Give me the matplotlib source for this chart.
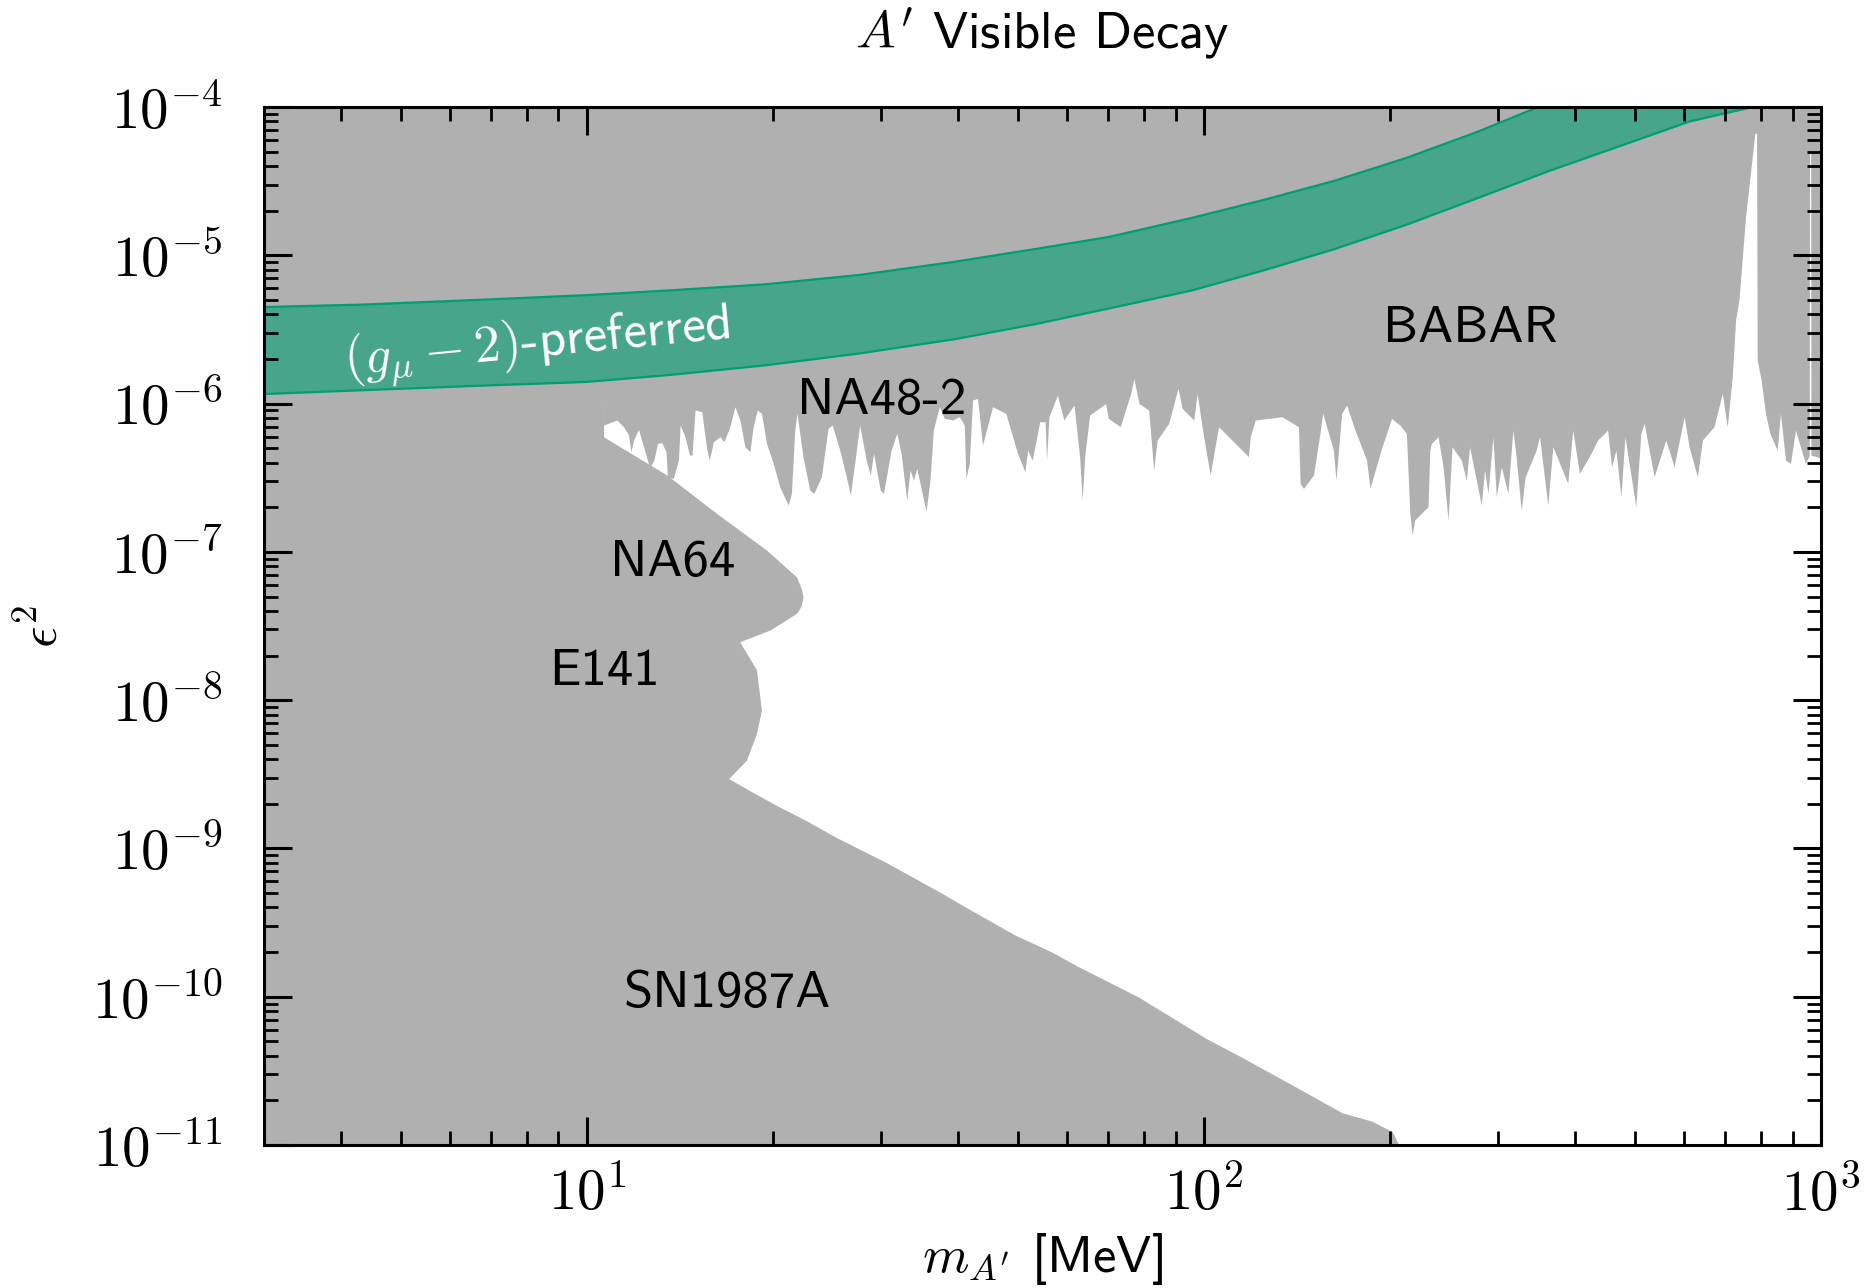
import numpy as np
import matplotlib
matplotlib.use("Agg")
import matplotlib.pyplot as plt
from matplotlib.ticker import LogLocator, NullFormatter, FuncFormatter

plt.rcParams['font.family'] = 'cmss10'
plt.rcParams['mathtext.fontset'] = 'cm'
plt.rcParams['axes.unicode_minus'] = False

GRAY = '#b0b0b0'
GREEN = '#009e73'

# (g-2)_mu preferred band, upper and lower edges
gm2_upper_m = [3.0, 4.31, 6.71, 10.0, 13.63, 19.43, 27.7, 39.5, 53.8, 70.2,
               95.7, 124.8, 162.7, 212.3, 276.9, 348]
gm2_upper_eps2 = [4.48e-6, 4.65e-6, 5.01e-6, 5.39e-6, 5.80e-6, 6.37e-6, 7.38e-6, 9.05e-6, 1.11e-5, 1.33e-5,
                  1.79e-5, 2.36e-5, 3.18e-5, 4.52e-5, 6.78e-5, 1.0e-4]
gm2_lower_m = [3.0, 4.31, 6.71, 10.0, 13.63, 19.43, 27.7, 39.5, 53.8, 73.4,
               95.7, 124.8, 162.7, 212.3, 276.9, 361.0, 470.7, 613.7, 775]
gm2_lower_eps2 = [1.16e-6, 1.23e-6, 1.32e-6, 1.40e-6, 1.56e-6, 1.81e-6, 2.18e-6, 2.72e-6, 3.46e-6, 4.56e-6,
                  5.80e-6, 7.90e-6, 1.10e-5, 1.60e-5, 2.42e-5, 3.68e-5, 5.43e-5, 8.01e-5, 1.0e-4]

# NA64 / E141 / SN1987A: right edge of the low-mass excluded region
left_eps2 = [1e-4, 7.2e-7, 5.97e-7, 3.30e-7, 1.82e-7, 1.03e-7, 6.79e-8, 5.7e-8, 4.98e-8, 4.3e-8,
             3.85e-8, 2.97e-8, 2.48e-8, 1.60e-8, 8.57e-9, 5.97e-9, 3.94e-9, 2.96e-9, 2.47e-9, 1.95e-9,
             1.54e-9, 1.19e-9, 8.02e-10, 5.01e-10, 4.07e-10, 2.61e-10, 2.01e-10, 1.59e-10, 9.97e-11, 5.19e-11,
             4.0e-11, 2.5e-11, 1.65e-11, 1.45e-11, 1.23e-11, 1e-11]
left_m = [11.0, 10.65, 10.65, 13.48, 16.23, 19.55, 21.87, 22.25, 22.42, 22.25,
          21.87, 19.81, 17.70, 18.84, 19.19, 18.84, 18.15, 16.98, 18.32, 20.31,
          22.69, 25.34, 30.6, 37.55, 40.9, 49.4, 56.6, 62.7, 78.3, 101.2,
          114, 140, 167.5, 187, 202, 207]

# NA48/2 + BaBar: lower edge of the high-coupling excluded region
babar_m = [
    10.65, 11.19, 11.47, 11.69, 11.79, 11.91, 12.13, 12.36, 12.56, 12.66,
    12.85, 13.02, 13.23, 13.44, 13.51, 13.81, 14.08, 14.17, 14.43, 14.67,
    14.81, 14.98, 15.36, 15.64, 15.80, 16.04, 16.44, 16.68, 17.06, 17.38,
    17.71, 18.04, 18.38, 18.61, 18.89, 19.19, 19.56, 20.05, 20.55, 21.20,
    21.46, 21.73, 21.91, 22.41, 22.98, 23.33, 24.00, 24.60, 24.99, 25.70,
    26.34, 26.74, 27.17, 27.68, 28.37, 28.80, 29.16, 29.89, 30.26, 31.13,
    31.80, 32.31, 33.00, 33.41, 33.84, 34.26, 35.47, 35.99, 36.44, 37.27,
    37.97, 39.17, 40.15, 40.90, 41.15, 41.67, 42.19, 42.98, 43.78, 44.44,
    45.45, 46.59,
    47.75, 49.9, 51.3, 51.8, 52.7, 54.2, 55.3, 55.6, 56.1, 57.9,
    59.3, 61.6, 62.9, 63.5, 64.1, 65.3, 69.3, 70.0, 73.2, 76.1,
    77.0, 78.5, 81.4, 82.9, 84.0, 87.7, 90.8, 92.2, 96.3, 97.5,
    99.9, 102.4, 105.6, 118.1, 118.9, 121.1, 133.7, 142.3, 143.2, 145.0,
    150.5, 154.2, 155.8, 162.1, 163.7, 167.2, 170.3, 175.7, 183.5, 185.8,
    194.0, 201.4, 207.7, 212.9, 215.6, 217.5, 219.6, 230.8, 232.3,
    233.7, 239.6, 244.1, 248.7, 252.4, 261.3, 266.2, 269.5, 281.5, 285.0,
    288.6, 294.0, 297.7, 303.3, 310.9, 316.7, 320.6, 326.7, 331.6, 345.5,
    349.8, 360.8, 367.6, 388.7, 396.0, 406.0, 423.9, 434.5, 451.0, 457.7,
    465.2, 474.0, 481.1, 501.1, 510.5, 516.9, 536.5, 560.3, 578.0, 600.0,
    611.2, 630.5, 642.3, 670.7, 691.8, 704.8, 718.1, 727.1, 736.2, 754.6,
    781.3, 786.2, 788.1, 799.8, 812.8, 826.2, 849.0, 859.6, 875.8, 892.3,
    908.9, 926.0, 943.5,
    957, 958, 962, 963, 1000]
babar_eps2 = [
    7.17e-7, 7.75e-7, 6.99e-7, 6.14e-7, 4.74e-7, 5.68e-7, 6.71e-7, 5.12e-7, 4.06e-7, 3.75e-7,
    4.16e-7, 5.39e-7, 5.45e-7, 4.74e-7, 3.21e-7, 3.13e-7, 4.16e-7, 7.17e-7, 5.98e-7, 4.50e-7,
    4.50e-7, 9.05e-7, 8.82e-7, 4.99e-7, 4.16e-7, 5.53e-7, 5.98e-7, 5.53e-7, 6.99e-7, 9.53e-7,
    7.75e-7, 5.12e-7, 4.74e-7, 6.99e-7, 9.05e-7, 8.60e-7, 5.39e-7, 3.95e-7, 2.75e-7, 2.07e-7,
    2.48e-7, 6.64e-7, 8.60e-7, 4.39e-7, 2.61e-7, 2.48e-7, 3.21e-7, 6.81e-7, 7.17e-7, 4.86e-7,
    3.21e-7, 2.42e-7, 3.95e-7, 7.17e-7, 4.16e-7, 3.30e-7, 4.62e-7, 2.61e-7, 2.48e-7, 4.86e-7,
    6.30e-7, 4.62e-7, 2.24e-7, 3.56e-7, 3.05e-7, 3.66e-7, 1.87e-7, 3.05e-7, 6.64e-7, 9.53e-7,
    7.96e-7, 7.75e-7, 8.16e-7, 7.17e-7, 3.13e-7, 3.95e-7, 1.057e-6, 1.085e-6, 5.26e-7, 6.64e-7,
    9.53e-7, 9.05e-7,
    8.60e-7, 4.62e-7, 3.47e-7, 4.86e-7, 4.16e-7, 7.55e-7, 7.55e-7, 4.16e-7, 8.16e-7, 1.14e-6,
    7.75e-7, 9.78e-7, 4.39e-7, 2.24e-7, 4.39e-7, 8.38e-7, 1.00e-6, 7.95e-7, 6.99e-7, 1.17e-6,
    1.48e-6, 1.00e-6, 9.05e-7, 3.56e-7, 5.68e-7, 7.36e-7, 1.27e-6, 9.29e-7, 7.75e-7, 1.17e-6,
    5.98e-7, 3.30e-7, 6.99e-7, 4.39e-7, 5.98e-7, 7.75e-7, 8.16e-7, 6.99e-7, 2.90e-7, 2.68e-7,
    3.30e-7, 6.30e-7, 8.60e-7, 4.86e-7, 3.05e-7, 8.60e-7, 9.78e-7, 6.64e-7, 4.16e-7, 2.68e-7,
    4.99e-7, 7.95e-7, 7.17e-7, 6.30e-7, 1.82e-7, 1.30e-7, 1.64e-7, 2.02e-7, 4.86e-7,
    5.39e-7, 5.98e-7, 3.75e-7, 1.64e-7, 5.12e-7, 4.16e-7, 3.05e-7, 5.12e-7, 2.07e-7, 3.56e-7,
    2.48e-7, 5.98e-7, 2.35e-7, 3.75e-7, 2.48e-7, 6.63e-7, 4.38e-7, 1.91e-7, 3.21e-7, 4.86e-7,
    5.98e-7, 2.07e-7, 5.12e-7, 2.90e-7, 6.63e-7, 3.38e-7, 4.62e-7, 5.68e-7, 6.63e-7, 3.75e-7,
    4.86e-7, 2.35e-7, 5.98e-7, 2.02e-7, 6.30e-7, 7.36e-7, 3.21e-7, 5.68e-7, 3.75e-7, 8.16e-7,
    5.12e-7, 3.21e-7, 5.68e-7, 6.99e-7, 1.17e-6, 6.99e-7, 1.52e-6, 3.66e-6, 5.00e-6, 1.82e-5,
    6.65e-5, 6.65e-5, 1.97e-6, 1.44e-6, 8.59e-7, 6.30e-7, 4.86e-7, 8.59e-7, 4.16e-7, 3.95e-7,
    6.63e-7, 5.12e-7, 3.95e-7,
    4.5e-7, 5.1e-5, 5.1e-5, 4.5e-7, 4.3e-7]

fig = plt.figure(figsize=(9.33, 6.44), dpi=200)
ax = fig.add_axes([0.1415, 0.111, 0.8344, 0.8059])

# excluded regions
ax.fill_betweenx(left_eps2, 1.0, left_m, color=GRAY, lw=0, zorder=1)
ax.fill_between(babar_m, babar_eps2, 1e-4, color=GRAY, lw=0, zorder=1)

# g-2 band
band_m = gm2_upper_m + gm2_lower_m[::-1]
band_eps2 = gm2_upper_eps2 + gm2_lower_eps2[::-1]
ax.fill(band_m, band_eps2, color=GREEN, alpha=0.6, lw=0, zorder=2)
ax.plot(gm2_upper_m, gm2_upper_eps2, color=GREEN, lw=0.8, zorder=2)
ax.plot(gm2_lower_m, gm2_lower_eps2, color=GREEN, lw=0.8, zorder=2)

# labels
ax.text(8.3, 2.5e-6, r'$(g_\mu - 2)$-preferred', color='white', fontsize=19,
        rotation=5.5, ha='center', va='center', zorder=3)
ax.text(30.0, 1.04e-6, 'NA48-2', fontsize=19, ha='center', va='center', zorder=3)
ax.text(270, 3.2e-6, 'BABAR', fontsize=19, ha='center', va='center', zorder=3)
ax.text(13.8, 8.4e-8, 'NA64', fontsize=19, ha='center', va='center', zorder=3)
ax.text(10.7, 1.54e-8, 'E141', fontsize=19, ha='center', va='center', zorder=3)
ax.text(16.9, 1.05e-10, 'SN1987A', fontsize=19, ha='center', va='center', zorder=3)

ax.set_xscale('log')
ax.set_yscale('log')
ax.set_xlim(3, 1000)
ax.set_ylim(1e-11, 1e-4)

pow_fmt = FuncFormatter(lambda v, pos: r'$10^{%d}$' % int(round(np.log10(v))))
ax.xaxis.set_major_locator(LogLocator(base=10, numticks=10))
ax.xaxis.set_minor_locator(LogLocator(base=10, subs=np.arange(2, 10) * 1.0, numticks=10))
ax.xaxis.set_major_formatter(pow_fmt)
ax.xaxis.set_minor_formatter(NullFormatter())
ax.yaxis.set_major_locator(LogLocator(base=10, numticks=20))
ax.yaxis.set_minor_locator(LogLocator(base=10, subs=np.arange(2, 10) * 1.0, numticks=20))
ax.yaxis.set_major_formatter(pow_fmt)
ax.yaxis.set_minor_formatter(NullFormatter())

ax.set_axisbelow(False)
ax.tick_params(which='both', direction='in', top=True, right=True)
ax.tick_params(which='major', length=10, width=1.1, labelsize=20.5)
ax.tick_params(which='minor', length=5, width=1.0)
ax.tick_params(axis='x', which='major', pad=8)
ax.tick_params(axis='y', which='major', pad=15)
for sp in ax.spines.values():
    sp.set_linewidth(1.1)

ax.set_title(r"$A'$ Visible Decay", fontsize=19, pad=21)
ax.set_xlabel(r"$m_{A'}$ [MeV]", fontsize=19, labelpad=3)
ax.set_ylabel(r"$\epsilon^2$", fontsize=19, labelpad=9)

fig.savefig('out.png', dpi=200)
